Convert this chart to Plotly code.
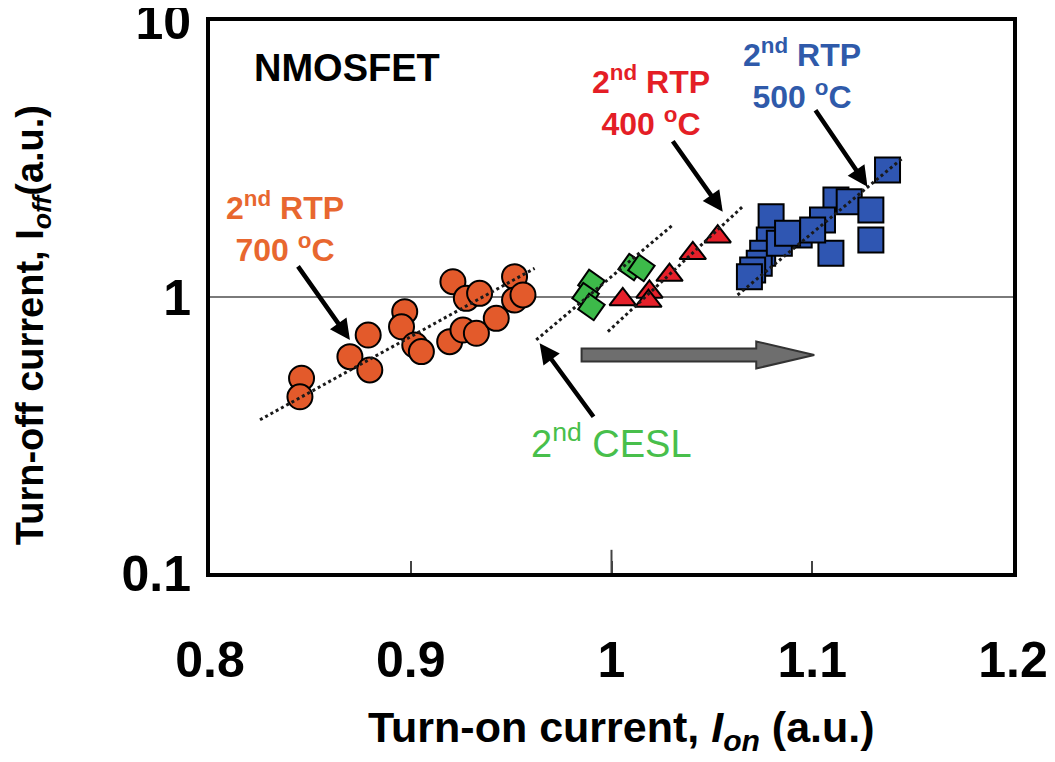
import math
import plotly.graph_objects as go

# ---------------- data ----------------
rtp700_x = [0.8456, 0.8448, 0.8788, 0.8697, 0.8796, 0.8970, 0.8954, 0.9020, 0.9053, 0.9210,
            0.9277, 0.9343, 0.9194, 0.9260, 0.9327, 0.9426, 0.9517, 0.9517, 0.9559]
rtp700_y = [0.508, 0.435, 0.728, 0.608, 0.544, 0.885, 0.780, 0.670, 0.634, 1.136,
            0.989, 1.031, 0.689, 0.759, 0.739, 0.837, 1.185, 0.975, 1.017]

cesl_x = [0.9900, 0.9871, 0.9900, 1.0100, 1.0149]
cesl_y = [1.124, 1.008, 0.920, 1.284, 1.274]

rtp400_x = [1.0056, 1.0189, 1.0184, 1.0289, 1.0405, 1.0529]
rtp400_y = [0.980, 1.043, 0.967, 1.201, 1.440, 1.654]

rtp500_x = [1.1375, 1.1118, 1.1184, 1.1292, 1.1292, 1.1093, 1.1051, 1.0935, 1.0795, 1.0786,
            1.0753, 1.0736, 1.0703, 1.0687, 1.0836, 1.0877, 1.1002]
rtp500_y = [2.885, 2.245, 2.214, 2.066, 1.609, 1.440, 1.900, 1.677, 1.955, 1.609,
            1.440, 1.324, 1.252, 1.184, 1.565, 1.701, 1.749]

# dotted trend lines (end points)
fit700_x = [0.8249, 0.9617]
fit700_y = [0.359, 1.270]
fitcesl_x = [0.9625, 1.0305]
fitcesl_y = [0.699, 1.823]
fit400_x = [0.9982, 1.0653]
fit400_y = [0.749, 2.125]
fit500_x = [1.0628, 1.1449]
fit500_y = [1.017, 3.181]

x_ticks = [0.8, 0.9, 1.0, 1.1, 1.2]
x_ticklabels = ["0.8", "0.9", "1", "1.1", "1.2"]
y_ticks = [0.1, 1, 10]
y_ticklabels = ["0.1", "1", "10"]

FONT = "Liberation Sans, Arial, sans-serif"
C_OR = "#E35A2B"
C_RED = "#E5202A"
C_GRN = "#3DBA4A"
C_BLU = "#2F56B2"
T_OR = "#E8672F"
T_RED = "#E41E26"
T_GRN = "#48BF4B"
T_BLU = "#2F5AAA"

fig = go.Figure()

mline = dict(color="black", width=2)
fig.add_trace(go.Scatter(x=rtp700_x, y=rtp700_y, mode="markers",
                         marker=dict(symbol="circle", size=25, color=C_OR, line=mline)))
fig.add_trace(go.Scatter(x=cesl_x, y=cesl_y, mode="markers",
                         marker=dict(symbol="square", size=19, angle=35, color=C_GRN, line=mline)))
fig.add_trace(go.Scatter(x=rtp400_x, y=rtp400_y, mode="markers",
                         marker=dict(symbol="triangle-up", size=23, color=C_RED, line=mline)))
fig.add_trace(go.Scatter(x=rtp500_x, y=rtp500_y, mode="markers",
                         marker=dict(symbol="square", size=25, color=C_BLU, line=mline)))

for fx, fy in [(fit700_x, fit700_y), (fitcesl_x, fitcesl_y), (fit400_x, fit400_y), (fit500_x, fit500_y)]:
    fig.add_trace(go.Scatter(x=fx, y=fy, mode="lines",
                             line=dict(color="#1a1a1a", width=3, dash="dot")))


def ly(v):
    return math.log10(v)


annotations = []
# black arrows (tip in data coordinates, tail offset in pixels)
arrows = [
    (0.8697, 0.699, -53, -75),
    (1.0554, 2.037, -51, -72),
    (1.1275, 2.510, -53, -78),
    (0.9642, 0.680, 55, 75),
]
for x, y, ax, ay in arrows:
    annotations.append(dict(x=x, y=ly(y), xref="x", yref="y", ax=ax, ay=ay,
                            showarrow=True, arrowhead=2, arrowsize=0.9, arrowwidth=4.5,
                            arrowcolor="black", text="", standoff=0))

bold = dict(family=FONT, size=32, weight="bold")
annotations += [
    dict(x=0.8682, y=ly(6.75), xref="x", yref="y", showarrow=False,
         text="NMOSFET", font=dict(family=FONT, size=38, weight="bold", color="black")),
    dict(x=0.8373, y=ly(1.80), xref="x", yref="y", showarrow=False, align="center",
         text="2<sup>nd</sup> RTP<br>700 <sup>o</sup>C", font=dict(bold, color=T_OR)),
    dict(x=1.0199, y=ly(5.13), xref="x", yref="y", showarrow=False, align="center",
         text="2<sup>nd</sup> RTP<br>400 <sup>o</sup>C", font=dict(bold, color=T_RED)),
    dict(x=1.0950, y=ly(6.45), xref="x", yref="y", showarrow=False, align="center",
         text="2<sup>nd</sup> RTP<br>500 <sup>o</sup>C", font=dict(bold, color=T_BLU)),
    dict(x=1.0000, y=ly(0.302), xref="x", yref="y", showarrow=False,
         text="2<sup>nd</sup> CESL", font=dict(family=FONT, size=38, color=T_GRN)),
    # axis titles
    dict(x=0.513, y=-0.2844, xref="paper", yref="paper", showarrow=False,
         xanchor="center", yanchor="middle",
         text="Turn-on current, <i>I</i><sub><i>on</i></sub> (a.u.)",
         font=dict(family=FONT, size=43, weight="bold", color="black")),
    dict(x=-0.2204, y=0.449, xref="paper", yref="paper", showarrow=False,
         xanchor="center", yanchor="middle", textangle=-90,
         text="Turn-off current, I<sub><i>off</i></sub>(a.u.)",
         font=dict(family=FONT, size=38, weight="bold", color="black")),
]

# gray block arrow
x0, x1, x2 = 0.9851, 1.0721, 1.1010
ys_top, ys_bot = 0.4067, 0.3832
yh_top, yh_bot, yc = 0.4194, 0.3705, 0.3949
path = (f"M {x0},{ys_top} L {x1},{ys_top} L {x1},{yh_top} L {x2},{yc} "
        f"L {x1},{yh_bot} L {x1},{ys_bot} L {x0},{ys_bot} Z")
shapes = [
    dict(type="path", xref="x", yref="paper", path=path,
         fillcolor="#6E6E6E", line=dict(color="#333333", width=2)),
    # the longer tick at x = 1
    dict(type="line", xref="x", yref="paper", x0=1.0, x1=1.0, y0=0, y1=0.042,
         line=dict(color="#444", width=2)),
]

# the page body adds an 8 px offset, so the figure is 8 px smaller
fig.update_layout(
    width=1047, height=754,
    margin=dict(l=202, r=42, t=13, b=189, autoexpand=False),
    paper_bgcolor="white", plot_bgcolor="white",
    showlegend=False,
    annotations=annotations,
    shapes=shapes,
    font=dict(family=FONT, color="black"),
    xaxis=dict(range=[0.8, 1.2], tickvals=x_ticks, ticktext=x_ticklabels,
               ticks="inside", ticklen=12, tickwidth=2, tickcolor="#444",
               showline=True, linecolor="black", linewidth=4, mirror=True,
               showgrid=False, zeroline=False, ticklabeloverflow="allow",
               tickfont=dict(family=FONT, size=50, weight="bold", color="black"),
               ticklabelstandoff=40),
    yaxis=dict(type="log", range=[-1, 1], tickvals=y_ticks, ticktext=y_ticklabels,
               ticks="", showline=True, linecolor="black", linewidth=4, mirror=True,
               showgrid=True, gridcolor="#7a7a7a", gridwidth=2, zeroline=False,
               ticklabeloverflow="allow",
               tickfont=dict(family=FONT, size=50, weight="bold", color="black"),
               ticklabelstandoff=5),
)

fig.write_html("out.html")
